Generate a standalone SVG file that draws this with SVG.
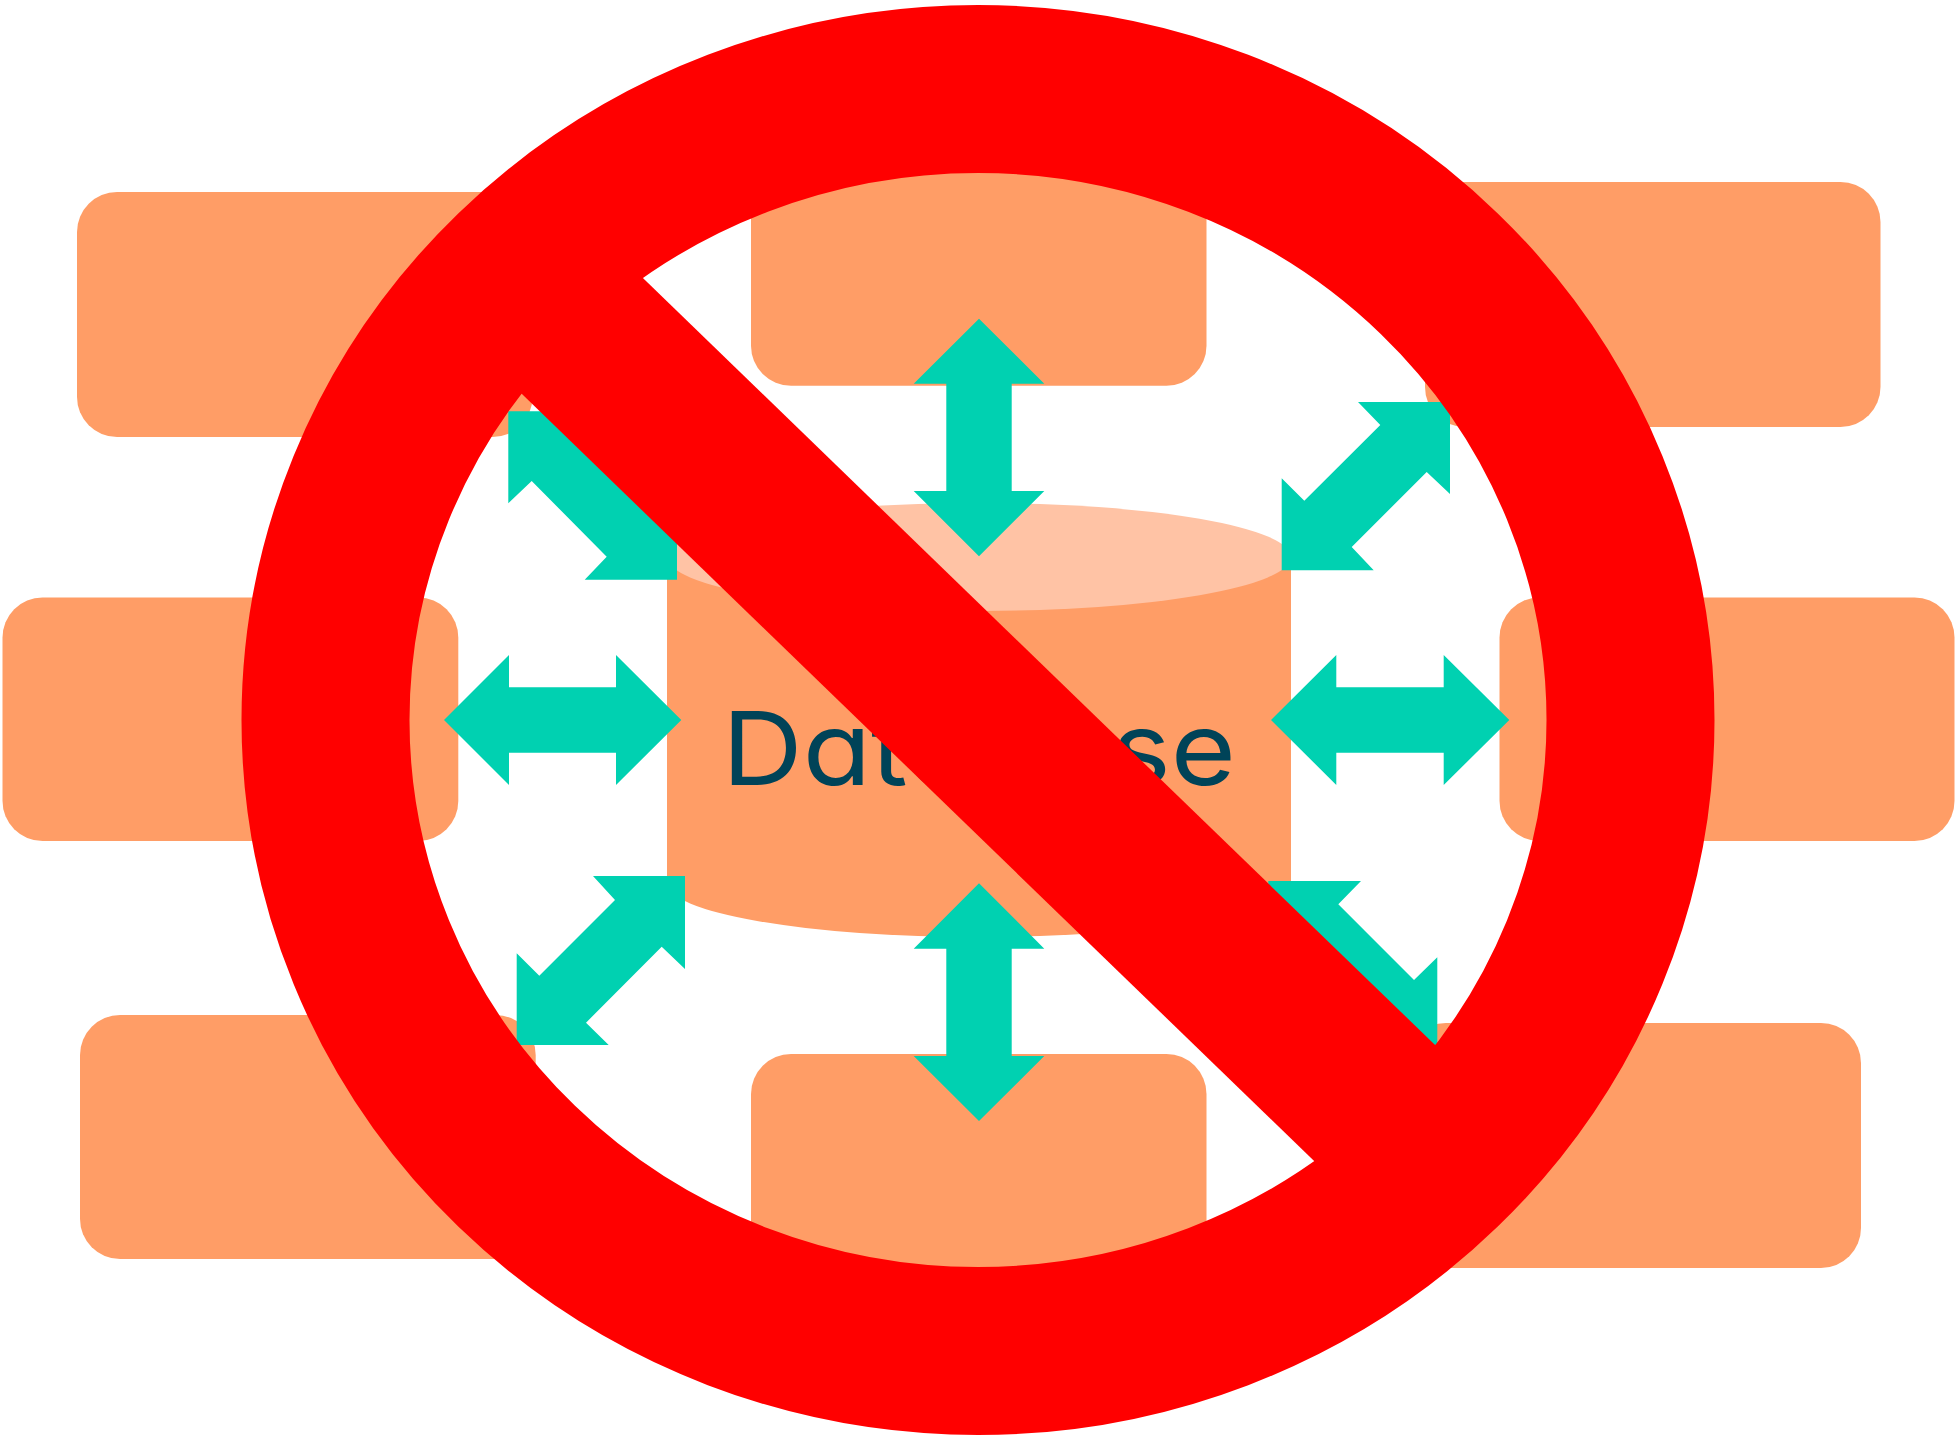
<svg xmlns="http://www.w3.org/2000/svg" width="1957" height="1440" viewBox="0 0 1957 1440">
<style>
.box{fill:#ff9d66}
.lid{fill:#ffc3a5}
.arrow{fill:#00d1b1}
.label{font-family:"Inter","Liberation Sans",sans-serif;font-weight:400;font-size:102px;fill:#004358;font-feature-settings:"cv11" 1}
.ban{fill:#f00}
.ring{fill:none;stroke:#f00;stroke-width:168}
</style>
<rect width="1957" height="1440" fill="#fff"/>
<g id="node-top-left"><rect class="box" x="77" y="192" width="455.5" height="245" rx="40"/></g>
<g id="node-top-center"><rect class="box" x="751" y="140" width="455.5" height="245.7" rx="40"/></g>
<g id="node-top-right"><rect class="box" x="1425" y="182" width="455.5" height="245" rx="40"/></g>
<g id="node-mid-left"><rect class="box" x="2.5" y="597.5" width="455.8" height="243.5" rx="40"/></g>
<g id="node-mid-right"><rect class="box" x="1499.5" y="597.5" width="455" height="243.5" rx="40"/></g>
<g id="node-bottom-left"><rect class="box" x="80" y="1015" width="455.7" height="244" rx="40"/></g>
<g id="node-bottom-center"><rect class="box" x="751" y="1054" width="455.5" height="245" rx="40"/></g>
<g id="node-bottom-right"><rect class="box" x="1406" y="1023" width="455" height="245" rx="40"/></g>
<g id="node-database">
<path class="box" d="M667 557H1291V883A312 54 0 0 1 667 883Z"/>
<ellipse class="lid" cx="979" cy="557" rx="312" ry="54"/>
<text class="label" x="722" y="785" textLength="514" lengthAdjust="spacingAndGlyphs">Database</text>
</g>
<g id="connectors">
<polygon class="arrow" points="979,318.7 1044.3,383.7 1011.7,383.7 1011.7,491 1044.3,491 979,556.3 913.7,491 946.3,491 946.3,383.7 913.7,383.7"/>
<polygon class="arrow" points="979,883.3 1044.3,948.7 1011.7,948.7 1011.7,1056 1044.3,1056 979,1121 913.7,1056 946.3,1056 946.3,948.7 913.7,948.7"/>
<polygon class="arrow" points="444,720 509,655 509,687.3 616,687.3 616,655 681.3,720 616,785 616,752.7 509,752.7 509,785"/>
<polygon class="arrow" points="1271,720 1336.3,655 1336.3,687.3 1443.7,687.3 1443.7,655 1509.3,720 1443.7,785 1443.7,752.7 1336.3,752.7 1336.3,785"/>
<polygon class="arrow" points="508.3,411.3 600.3,411.3 577,434 654,510 677,487.7 677,579.7 584.7,579.7 606.7,556.7 531.7,481 508.3,503.3"/>
<polygon class="arrow" points="1450,402 1450,494 1426.7,472 1351.7,547 1373.7,570.3 1281.7,570.3 1281.7,478.3 1304.3,500.7 1380.3,425 1358,402"/>
<polygon class="arrow" points="685,876 685,969 661.7,946.7 586,1022.7 608.7,1045 516.7,1045 516.7,953.3 539.3,975.7 615,900 593,876"/>
<polygon class="arrow" points="1268.3,881 1361,881 1338.3,904.3 1414,980 1437.3,957.3 1437.3,1049.3 1345,1049.3 1368,1026 1292,950 1268.3,973"/>
</g>
<g id="prohibition-sign">
<ellipse class="ring" cx="978" cy="720" rx="652.5" ry="631"/>
<polygon class="ban" points="583,220 1495,1103 1374,1219 462,336"/>
</g>
</svg>
